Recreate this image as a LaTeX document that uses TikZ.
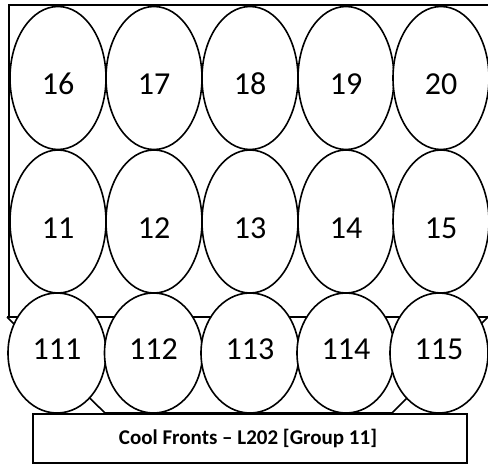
\documentclass[tikz,border=0pt]{standalone}
\usepackage{fontspec}
\setmainfont{Carlito}
\usetikzlibrary{shapes.geometric}
\begin{document}
\begin{tikzpicture}[x=1pt,y=-1pt,line width=1.6pt,
  cell/.style={ellipse,draw,fill=white,minimum width=96pt,minimum height=143pt,inner sep=0pt,
    text height=33pt,text depth=0pt,font=\fontsize{32}{32}\selectfont},
  lowcell/.style={cell,minimum width=98pt,minimum height=120pt,text height=20pt,text depth=8pt},
  titlebox/.style={draw,fill=white,minimum width=434pt,minimum height=49pt,inner sep=0pt,font=\bfseries\fontsize{21}{21}\selectfont}]
\useasboundingbox (0,0) rectangle (488,466);
\clip (0,0) rectangle (488,466);
% frame
\draw (495,5) -- (9,5) -- (9,317);
\draw (7,317) -- (495,317);
% trapezoid
\draw (7,317) -- (105,413) -- (392,413) -- (490,315);
% row 1
\node[cell] (e16) at (58,78) {16};
\node[cell] (e17) at (154,78) {17};
\node[cell] (e18) at (250,78) {18};
\node[cell] (e19) at (346,78) {19};
\node[cell] (e20) at (441,78) {20};
% row 2
\node[cell] (e11) at (58,221.5) {11};
\node[cell] (e12) at (154,221.5) {12};
\node[cell] (e13) at (250,221.5) {13};
\node[cell] (e14) at (346,221.5) {14};
\node[cell] (e15) at (441,221.5) {15};
% row 3
\node[lowcell] (e111) at (57,353) {111};
\node[lowcell] (e112) at (153.5,353) {112};
\node[lowcell] (e113) at (250,353) {113};
\node[lowcell] (e114) at (346,353) {114};
\node[lowcell] (e115) at (439,353) {115};
% title
\node[titlebox] (title) at (250,438.5) {\hspace*{-4pt}Cool Fronts – L202 [Group 11]};
\end{tikzpicture}
\end{document}
